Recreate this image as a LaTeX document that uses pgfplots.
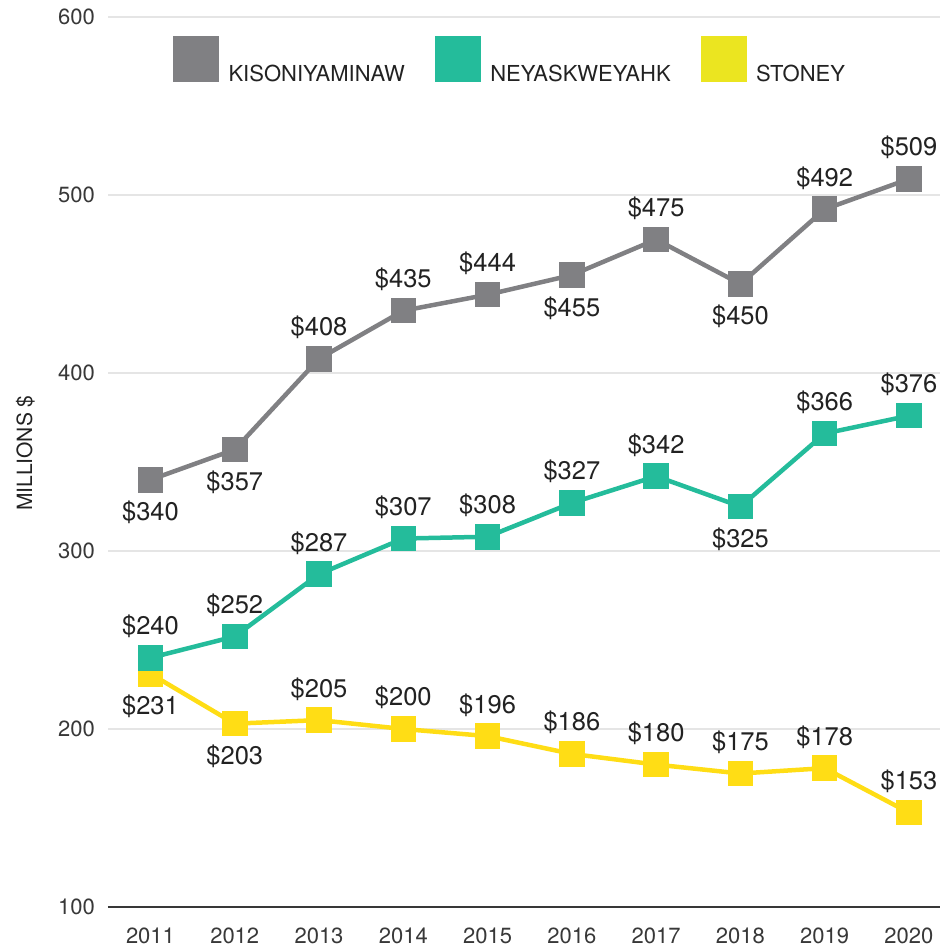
\documentclass[border=0pt]{standalone}
\usepackage{fontspec}
\setmainfont{TeX Gyre Heros}
\usepackage{pgfplots}
\pgfplotsset{compat=1.18}
\definecolor{cgray}{RGB}{128,128,131}
\definecolor{cteal}{RGB}{36,188,155}
\definecolor{cyel}{RGB}{255,221,21}
\definecolor{cyelleg}{RGB}{235,229,32}
\definecolor{txt}{RGB}{34,34,34}
\definecolor{grid}{RGB}{229,229,229}

\pgfplotsset{
  series/.style={forget plot, #1, line width=4.5pt, mark=square*, mark size=10.5pt,
    mark options={fill=#1, draw=none},
    point meta=y,
    nodes near coords={\$\pgfmathprintnumber[assume math mode=true]{\pgfplotspointmeta}},
    visualization depends on={value \thisrow{anc}\as\myanc},
    every node near coord/.append style={anchor=\myanc, inner sep=0pt, outer sep=0pt, outer ysep=23pt,
      text height=18pt, text depth=0pt,
      font=\fontsize{25.5}{30}\selectfont, text=txt}},
}

\begin{document}
\begin{tikzpicture}
\begin{axis}[
  scale only axis,
  width=832pt, height=890pt,
  xmin=2010.496, xmax=2020.368,
  ymin=100, ymax=600,
  xtick={2011,...,2020},
  ytick={100,200,...,600},
  major tick length=0pt,
  axis x line*=bottom,
  axis y line*=left,
  x axis line style={-, line width=2.5pt, color=txt!90},
  y axis line style={draw=none},
  ymajorgrids,
  grid style={color=grid, line width=1.5pt},
  /pgf/number format/assume math mode=true,
  /pgf/number format/set thousands separator={},
  tick label style={font=\fontsize{22}{26}\selectfont, text=txt!90},
  xticklabel style={anchor=base, yshift=-36pt},
  yticklabel style={anchor=east, inner sep=0pt, xshift=-13pt},
  ylabel={MILLIONS \$},
  ylabel style={at={(axis description cs:-0.0913,0.51)}, anchor=base, font=\fontsize{21}{25}\selectfont, text=txt},
  legend columns=3,
  legend style={at={(0.0781,0.9787)}, anchor=north west, draw=none, fill=none,
    inner sep=0pt, column sep=10pt,
    font=\fontsize{22}{26}\selectfont, text=txt,
    cells={anchor=base west},
    nodes={inner sep=0pt},
    /tikz/every even column/.append style={column sep=30pt}},
  legend image code/.code={\fill[#1] (0pt,0pt) rectangle (45pt,45pt);},
  clip=false,
]
\addlegendimage{cgray}
\addlegendentry{KISONIYAMINAW}
\addlegendimage{cteal}
\addlegendentry{NEYASKWEYAHK}
\addlegendimage{cyelleg}
\addlegendentry{STONEY}
\addplot[series=cgray] table[x=x,y=y] {
x y anc
2011 340 north
2012 357 north
2013 408 south
2014 435 south
2015 444 south
2016 455 north
2017 475 south
2018 450 north
2019 492 south
2020 509 south
};
\addplot[series=cyel] table[x=x,y=y] {
x y anc
2011 231 north
2012 203 north
2013 205 south
2014 200 south
2015 196 south
2016 186 south
2017 180 south
2018 175 south
2019 178 south
2020 153 south
};
\addplot[series=cteal] table[x=x,y=y] {
x y anc
2011 240 south
2012 252 south
2013 287 south
2014 307 south
2015 308 south
2016 327 south
2017 342 south
2018 325 north
2019 366 south
2020 376 south
};
\end{axis}
\pgfresetboundingbox
\path (current axis.south west) ++(-108pt,-40pt) rectangle ([yshift=17pt]current axis.north east);
\end{tikzpicture}
\end{document}
